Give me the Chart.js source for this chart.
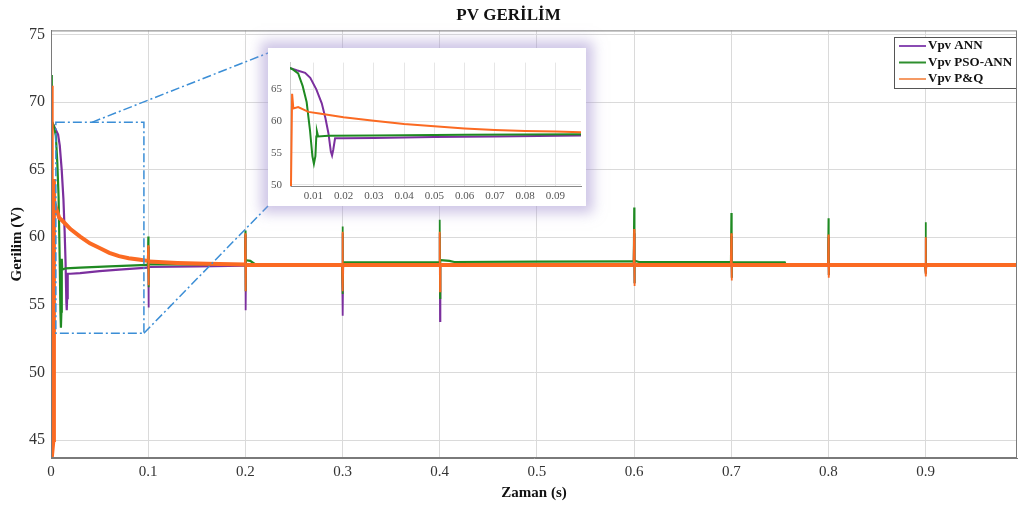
<!DOCTYPE html>
<html>
<head>
<meta charset="utf-8">
<script src="https://cdn.jsdelivr.net/npm/chart.js@4.4.1/dist/chart.umd.min.js"></script>
<style>
  html, body { margin: 0; padding: 0; background: #fff; }
  #wrap { position: relative; width: 1018px; height: 506px; }
  #zoomBox { position: absolute; left: 268px; top: 48px; width: 318px; height: 158px; background: #fff;
             box-shadow: 0 0 12px 7px rgba(165, 150, 210, 0.55); }
</style>
</head>
<body>
<div id="wrap">
  <canvas id="main" width="1018" height="506"></canvas>
  <div id="zoomBox"><canvas id="zoom" width="318" height="158"></canvas></div>
</div>
<script>
// PV voltage, time in s, voltage in V
var annT = [0, 0.002, 0.0045, 0.0073, 0.009, 0.011, 0.0128, 0.014, 0.015, 0.0158, 0.0162, 0.0166, 0.0172, 0.02, 0.03, 0.05, 0.07, 0.0995,
            0.1, 0.1003, 0.1007, 0.15, 0.1995,
            0.2, 0.2003, 0.2007, 0.2995,
            0.3, 0.3003, 0.3007, 0.3995,
            0.4, 0.4003, 0.4007, 0.5, 0.5995,
            0.6, 0.6003, 0.6007, 0.6995,
            0.7, 0.7003, 0.7007, 0.7995,
            0.8, 0.8003, 0.8007, 0.8995,
            0.9, 0.9003, 0.9007, 0.994];
var annV = [68.6, 68.4, 68.0, 67.6, 66.8, 65.0, 62.8, 60.5, 58.1, 55.2, 54.6, 55.5, 57.3, 57.3, 57.35, 57.5, 57.6, 57.75,
            59.3, 54.8, 57.8, 57.85, 57.9,
            60.2, 54.6, 57.9, 57.9,
            60.3, 54.2, 57.9, 57.9,
            60.3, 53.8, 57.9, 57.9, 57.9,
            60.3, 56.6, 57.9, 57.9,
            60.1, 57.0, 57.9, 57.9,
            60.0, 57.2, 57.9, 57.9,
            59.9, 57.3, 57.9, 57.9];

var psoT = [0, 0.0008, 0.003, 0.005, 0.0065, 0.0078, 0.0089, 0.0097, 0.0102, 0.0107, 0.011, 0.0112, 0.0116, 0.015, 0.03, 0.06, 0.0995,
            0.1, 0.1003, 0.1007, 0.15, 0.1995,
            0.2, 0.2003, 0.2007, 0.205, 0.21, 0.2995,
            0.3, 0.3003, 0.3007, 0.3995,
            0.4, 0.4003, 0.4007, 0.41, 0.415, 0.5, 0.5995,
            0.6, 0.6003, 0.6007, 0.605, 0.6995,
            0.7, 0.7003, 0.7007, 0.755, 0.756, 0.7995,
            0.8, 0.8003, 0.8007, 0.8995,
            0.9, 0.9003, 0.9007, 0.994];
var psoV = [72.0, 68.6, 68.2, 67.5, 65.5, 63.0, 58.6, 54.5, 53.3, 54.5, 57.6, 58.4, 57.6, 57.7, 57.75, 57.85, 57.95,
            60.05, 56.3, 58.0, 58.0, 58.0,
            60.5, 56.0, 58.3, 58.25, 58.0, 58.0,
            60.8, 55.8, 58.15, 58.15,
            61.3, 55.5, 58.3, 58.25, 58.17, 58.2, 58.22,
            62.2, 56.6, 58.25, 58.17, 58.17,
            61.8, 57.0, 58.15, 58.15, 57.95, 57.95,
            61.4, 57.2, 57.95, 57.95,
            61.1, 57.3, 57.95, 57.95];

var pqT = [0, 0.0004, 0.001, 0.0025, 0.003, 0.0034, 0.005, 0.0084, 0.012, 0.02, 0.03, 0.04, 0.05, 0.06, 0.07, 0.08, 0.09, 0.0995,
           0.1, 0.1003, 0.1007, 0.13, 0.16, 0.1995,
           0.2, 0.2003, 0.2007, 0.2995,
           0.3, 0.3003, 0.3007, 0.3995,
           0.4, 0.4003, 0.4007, 0.5, 0.5995,
           0.6, 0.6003, 0.6007, 0.6995,
           0.7, 0.7003, 0.7007, 0.7995,
           0.8, 0.8003, 0.8007, 0.8995,
           0.9, 0.9003, 0.9007, 0.994];
var pqV = [71.2, 45.0, 43.6, 45.0, 64.3, 62.0, 62.2, 61.45, 61.2, 60.6, 60.05, 59.55, 59.2, 58.85, 58.6, 58.45, 58.35, 58.25,
           59.4, 56.45, 58.2, 58.1, 58.03, 57.98,
           60.3, 56.0, 57.95, 57.95,
           60.4, 56.0, 57.95, 57.95,
           60.4, 56.0, 57.95, 57.95, 57.95,
           60.6, 56.4, 57.95, 57.95,
           60.3, 56.8, 57.95, 57.95,
           60.2, 57.0, 57.95, 57.95,
           60.0, 57.1, 57.95, 57.95];

var seriesNames = ['Vpv ANN', 'Vpv PSO-ANN', 'Vpv P&Q'];
var xTicks = [0, 0.1, 0.2, 0.3, 0.4, 0.5, 0.6, 0.7, 0.8, 0.9];
var yTicks = [45, 50, 55, 60, 65, 70, 75];
var zoomXTicks = [0.01, 0.02, 0.03, 0.04, 0.05, 0.06, 0.07, 0.08, 0.09];
var zoomYTicks = [50, 55, 60, 65];

var colors = ['#7b2f9e', '#1f8a22', '#fb6a22'];
var legendColors = ['#8a4bb3', '#2e8f2e', '#f59a64'];
var serif = 'Liberation Serif';

function pairs(t, v) {
    return t.map(function (x, i) { return {x: x, y: v[i]}; });
}

// step disturbances after the start-up are thin, the rest keeps its own width
function spikeWidth(w) {
    return function (ctx) {
        var dx = ctx.p1.parsed.x - ctx.p0.parsed.x;
        return (ctx.p0.parsed.x > 0.05 && dx < 0.001) ? Math.min(w, 1.8) : w;
    };
}

function makeDatasets(widths) {
    var vals = [[annT, annV], [psoT, psoV], [pqT, pqV]];
    return vals.map(function (s, i) {
        return {
            label: seriesNames[i],
            data: pairs(s[0], s[1]),
            borderColor: colors[i],
            borderWidth: widths[i],
            segment: { borderWidth: spikeWidth(widths[i]) },
            order: 3 - i   // P&Q drawn on top
        };
    });
}

// frame, zoom rectangle with its connector lines, legend
var mainExtras = {
    id: 'mainExtras',
    afterDatasetsDraw: function (chart) {
        var ctx = chart.ctx, xs = chart.scales.x, ys = chart.scales.y;
        ctx.save();
        ctx.strokeStyle = '#3b8ed6';
        ctx.lineWidth = 1.5;
        ctx.setLineDash([9, 3, 2, 3]);
        var x0 = xs.getPixelForValue(0.005), x1 = xs.getPixelForValue(0.0956);
        var y0 = ys.getPixelForValue(68.5), y1 = ys.getPixelForValue(52.9);
        ctx.strokeRect(x0, y0, x1 - x0, y1 - y0);
        ctx.beginPath();
        ctx.moveTo(xs.getPixelForValue(0.042), y0);
        ctx.lineTo(268, 53);
        ctx.moveTo(x1, y1);
        ctx.lineTo(268, 206);
        ctx.stroke();
        ctx.setLineDash([]);

        // legend
        var a = chart.chartArea;
        var lx = a.right - 123, ly = 37, lw = 122, lh = 51;
        ctx.fillStyle = '#fff';
        ctx.fillRect(lx, ly, lw, lh);
        ctx.strokeStyle = '#555';
        ctx.lineWidth = 1;
        ctx.strokeRect(lx + 0.5, ly + 0.5, lw, lh);
        ctx.font = 'bold 13px ' + serif;
        ctx.textBaseline = 'middle';
        chart.data.datasets.forEach(function (ds, i) {
            var ry = ly + 9 + i * 16.5;
            ctx.strokeStyle = legendColors[i];
            ctx.lineWidth = 2;
            ctx.beginPath();
            ctx.moveTo(lx + 5, ry);
            ctx.lineTo(lx + 32, ry);
            ctx.stroke();
            ctx.fillStyle = '#111';
            ctx.fillText(ds.label, lx + 34, ry);
        });
        ctx.restore();
    },
    afterDraw: function (chart) {
        var a = chart.chartArea, ctx = chart.ctx;
        ctx.save();
        ctx.strokeStyle = '#7a7a7a';
        ctx.lineWidth = 1;
        ctx.strokeRect(a.left + 0.5, a.top + 0.5, a.right - a.left - 1, a.bottom - a.top - 1);
        ctx.restore();
    }
};

new Chart(document.getElementById('main'), {
    type: 'line',
    data: { datasets: makeDatasets([2.2, 2.2, 4]) },
    options: {
        responsive: false,
        animation: false,
        elements: { point: { radius: 0 }, line: { tension: 0 } },
        layout: { padding: { right: 1 } },
        plugins: {
            legend: { display: false },
            tooltip: { enabled: false },
            title: {
                display: true,
                text: 'PV GERİLİM',
                color: '#111',
                font: { family: serif, size: 17, weight: 'bold' },
                padding: { top: 5, bottom: 5 }
            }
        },
        scales: {
            x: {
                type: 'linear', min: 0, max: 0.994,
                afterBuildTicks: function (s) { s.ticks = xTicks.map(function (v) { return {value: v}; }); },
                afterFit: function (s) { s.height = 48; },
                grid: { color: '#dadada', drawTicks: false },
                border: { color: '#7a7a7a' },
                ticks: { padding: 5, color: '#333', font: { family: serif, size: 15 },
                         callback: function (v) { return String(v); } },
                title: { display: true, text: 'Zaman (s)', color: '#111',
                         font: { family: serif, size: 15, weight: 'bold' }, padding: { top: 0, bottom: 4 } }
            },
            y: {
                type: 'linear', min: 43.67, max: 75.3,
                afterBuildTicks: function (s) { s.ticks = yTicks.map(function (v) { return {value: v}; }); },
                afterFit: function (s) { s.width = 51; },
                grid: { color: '#dadada', drawTicks: false },
                border: { color: '#7a7a7a' },
                ticks: { padding: 6, color: '#333', font: { family: serif, size: 16 },
                         callback: function (v) { return String(v); } },
                title: { display: true, text: 'Gerilim (V)', color: '#111',
                         font: { family: serif, size: 15, weight: 'bold' }, padding: { top: 8, bottom: 0 } }
            }
        }
    },
    plugins: [mainExtras]
});

// zoomed view of the first 0.1 s
new Chart(document.getElementById('zoom'), {
    type: 'line',
    data: { datasets: makeDatasets([2, 2, 2]) },
    options: {
        responsive: false,
        animation: false,
        elements: { point: { radius: 0 }, line: { tension: 0 } },
        layout: { padding: { top: 7, right: 5 } },
        plugins: { legend: { display: false }, tooltip: { enabled: false } },
        scales: {
            x: {
                type: 'linear', min: 0.0023, max: 0.0985,
                afterBuildTicks: function (s) { s.ticks = zoomXTicks.map(function (v) { return {value: v}; }); },
                afterFit: function (s) { s.height = 20; },
                grid: { color: '#e6e6e6', drawTicks: false },
                border: { color: '#888' },
                ticks: { padding: 4, color: '#555', font: { family: serif, size: 11 },
                         callback: function (v) { return String(v); } }
            },
            y: {
                type: 'linear', min: 49.8, max: 69.2,
                afterBuildTicks: function (s) { s.ticks = zoomYTicks.map(function (v) { return {value: v}; }); },
                afterFit: function (s) { s.width = 22; },
                grid: { color: '#e6e6e6', drawTicks: false },
                border: { color: '#ccc' },
                ticks: { padding: 8, color: '#555', font: { family: serif, size: 11 },
                         callback: function (v) { return String(v); } }
            }
        }
    }
});
</script>
</body>
</html>
